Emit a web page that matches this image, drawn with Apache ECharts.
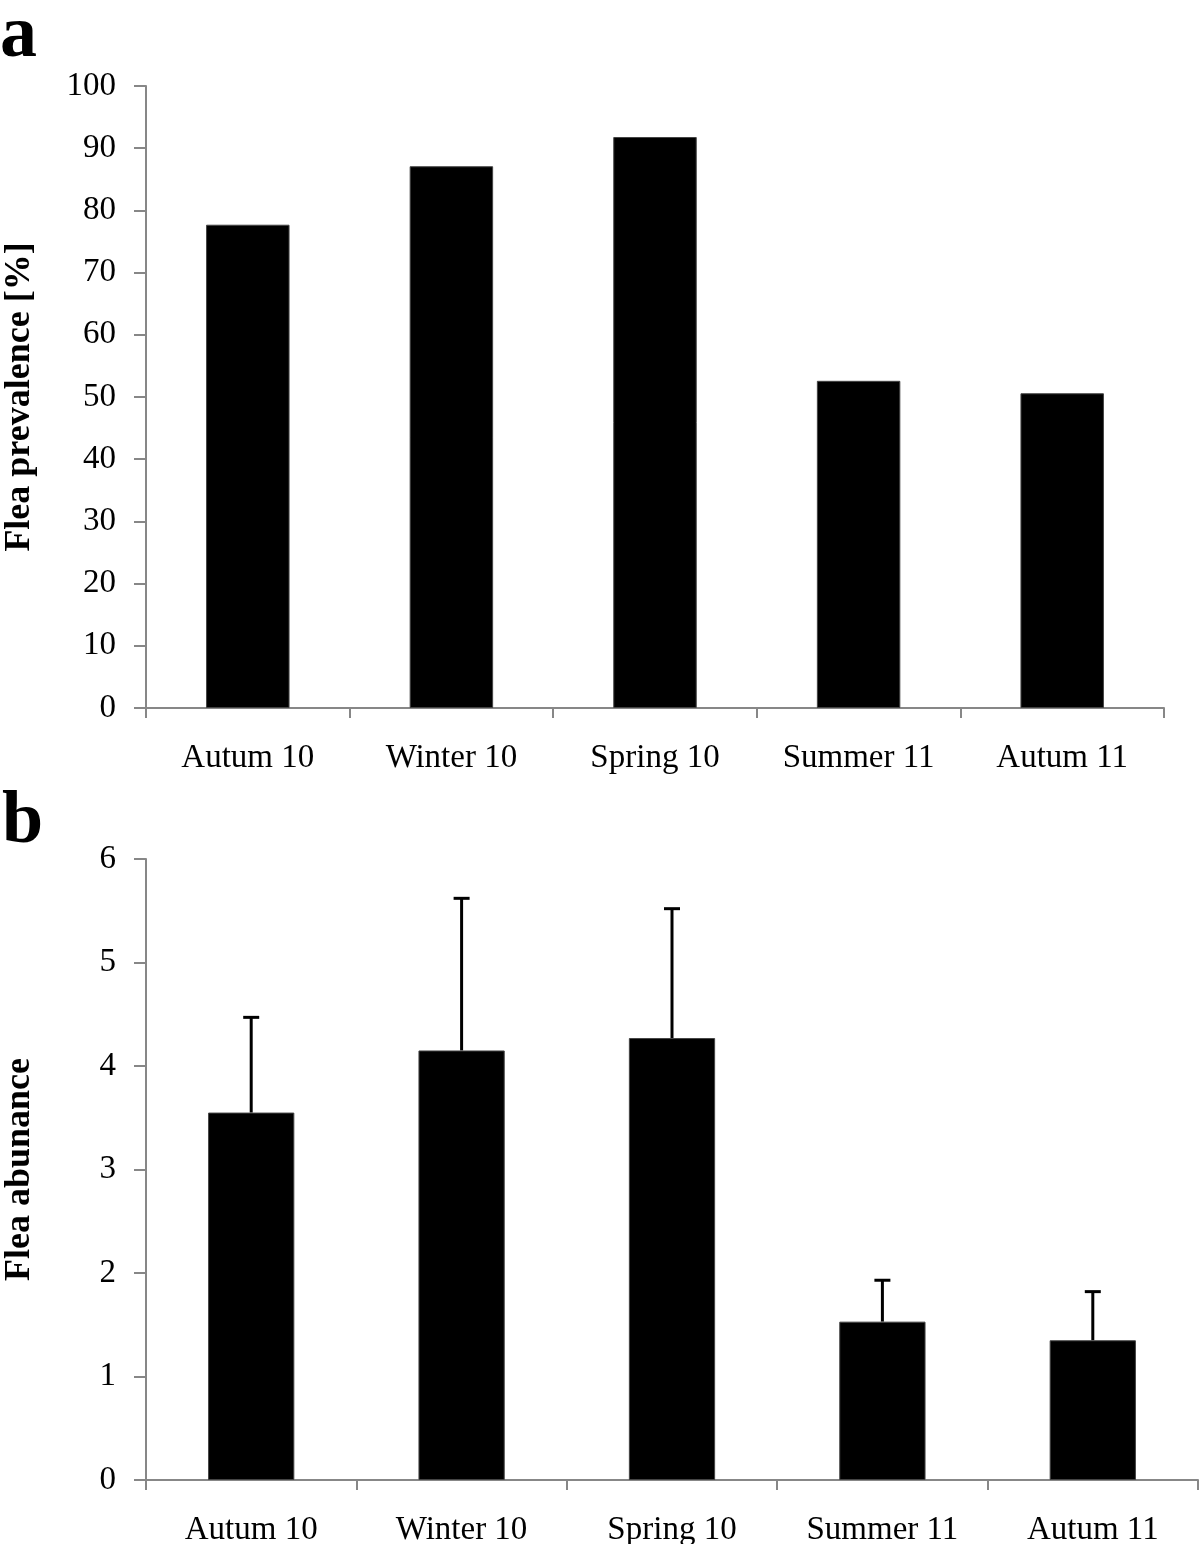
<!DOCTYPE html>
<html>
<head>
<meta charset="utf-8">
<script src="https://cdn.jsdelivr.net/npm/echarts@6/dist/echarts.min.js"></script>
<style>
html,body{margin:0;padding:0;background:#fff;}
#main{width:1200px;height:1544px;}
</style>
</head>
<body>
<div id="main"></div>
<script>
const categories = ['Autum 10', 'Winter 10', 'Spring 10', 'Summer 11', 'Autum 11'];
const prevalence = [77.7, 87.1, 91.8, 52.6, 50.6];
const abundance = [3.55, 4.15, 4.27, 1.53, 1.35];
const abundanceUpper = [4.47, 5.62, 5.52, 1.93, 1.82];
const prevalenceTicks = { min: 0, max: 100, interval: 10 };
const abundanceTicks = { min: 0, max: 6, interval: 1 };

const FONT = '"Liberation Serif", "Times New Roman", serif';
const AXIS = '#878787';

const chart = echarts.init(document.getElementById('main'), null, { renderer: 'canvas' });

function xAxisCfg(gridIndex) {
  return {
    type: 'category', gridIndex, data: categories, boundaryGap: true,
    axisLine: { lineStyle: { color: AXIS, width: 2 } },
    axisTick: { show: true, alignWithLabel: false, length: 10, lineStyle: { color: AXIS, width: 2 } },
    axisLabel: { color: '#000', fontFamily: FONT, fontSize: 33, margin: 34 }
  };
}
function yAxisCfg(gridIndex, ticks, name) {
  return {
    type: 'value', gridIndex, min: ticks.min, max: ticks.max, interval: ticks.interval,
    name, nameLocation: 'middle', nameRotate: 90, nameGap: 108,
    nameTextStyle: { color: '#000', fontFamily: FONT, fontSize: 36, fontWeight: 'bold' },
    axisLine: { show: true, lineStyle: { color: AXIS, width: 2 } },
    axisTick: { show: true, length: 12, lineStyle: { color: AXIS, width: 2 } },
    axisLabel: { color: '#000', fontFamily: FONT, fontSize: 33, margin: 30 },
    splitLine: { show: false }
  };
}

chart.setOption({
  animation: false,
  backgroundColor: '#fff',
  grid: [
    { left: 146, top: 86, width: 1018, height: 622, containLabel: false, outerBoundsMode: 'none' },
    { left: 146, top: 859, width: 1052, height: 621, containLabel: false, outerBoundsMode: 'none' }
  ],
  xAxis: [xAxisCfg(0), xAxisCfg(1)],
  yAxis: [
    yAxisCfg(0, prevalenceTicks, 'Flea prevalence [%]'),
    yAxisCfg(1, abundanceTicks, 'Flea abunance')
  ],
  graphic: [
    { type: 'text', left: 0, top: 0, style: { text: 'a', fontFamily: FONT, fontSize: 74, fontWeight: 'bold', fill: '#000' } },
    { type: 'text', left: 2, top: 786, style: { text: 'b', fontFamily: FONT, fontSize: 74, fontWeight: 'bold', fill: '#000' } }
  ],
  series: [
    {
      type: 'bar', xAxisIndex: 0, yAxisIndex: 0, data: prevalence, barWidth: '41%',
      itemStyle: { color: '#000', borderColor: '#444', borderWidth: 1 }
    },
    {
      type: 'bar', xAxisIndex: 1, yAxisIndex: 1, data: abundance, barWidth: '41%',
      itemStyle: { color: '#000', borderColor: '#444', borderWidth: 1 }
    },
    {
      type: 'custom', xAxisIndex: 1, yAxisIndex: 1, z: 1,
      data: abundance.map((v, i) => [i, v, abundanceUpper[i]]),
      renderItem: function (params, api) {
        const base = api.coord([api.value(0), api.value(1)]);
        const top = api.coord([api.value(0), api.value(2)]);
        const cap = 8;
        return {
          type: 'group',
          children: [
            { type: 'line', shape: { x1: base[0], y1: base[1], x2: top[0], y2: top[1] }, style: { stroke: '#000', lineWidth: 3 } },
            { type: 'line', shape: { x1: top[0] - cap, y1: top[1], x2: top[0] + cap, y2: top[1] }, style: { stroke: '#000', lineWidth: 3 } }
          ]
        };
      }
    }
  ]
});
</script>
</body>
</html>
